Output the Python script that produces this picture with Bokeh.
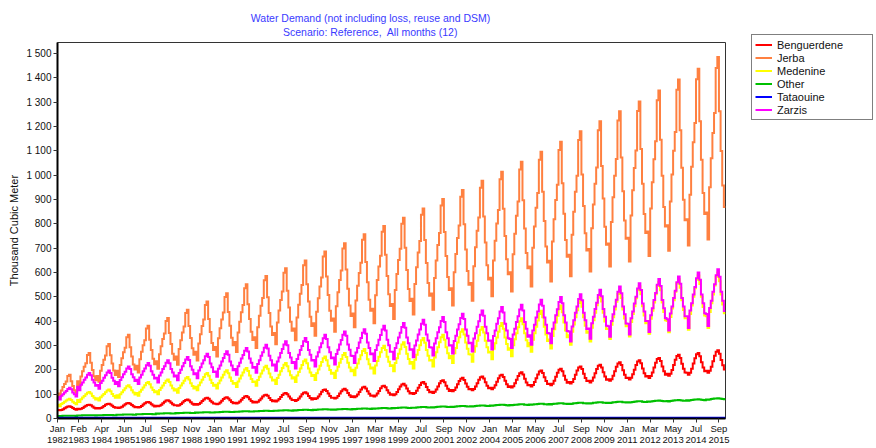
import numpy as np
from bokeh.plotting import figure
from bokeh.layouts import row, column
from bokeh.models import Range1d, FixedTicker, Legend, LegendItem, Label
from bokeh.embed import file_html
from bokeh.resources import INLINE

# ---------------------------------------------------------------------------
# Water demand by node, thousand cubic metres, monthly Jan 1982 - Dec 2015.
# Each node's demand is given as its peak-month (August) value per year,
# together with the monthly variation relative to that August value.
# ---------------------------------------------------------------------------
years = list(range(1982, 2016))
month_names = ["Jan", "Feb", "Mar", "Apr", "May", "Jun",
               "Jul", "Aug", "Sep", "Oct", "Nov", "Dec"]

benguerdene_aug = [50, 57, 61, 64, 68, 75, 78, 85, 87, 92, 98, 105,
                   108, 119, 122, 130, 135, 143, 150, 157, 167, 173, 180,
                   190, 197, 204, 214, 221, 231, 239, 249, 262, 269, 280]
jerba_aug = [180, 269, 306, 344, 381, 413, 447, 481, 515, 552, 586, 617,
             649, 686, 720, 757, 791, 825, 863, 902, 939, 977, 1014,
             1055, 1096, 1137, 1180, 1221, 1262, 1303, 1348, 1393, 1437, 1485]
medenine_aug = [81, 109, 119, 137, 150, 160, 171, 187, 198, 208, 217, 228,
                242, 255, 269, 286, 299, 313, 331, 344, 367, 376, 392,
                412, 443, 464, 489, 511, 527, 543, 561, 572, 588, 600]
other_aug = [11, 13, 14, 16, 18, 21, 23, 25, 27, 29, 31, 33,
             35, 37, 38, 40, 42, 44, 46, 48, 50, 52, 55,
             57, 59, 61, 63, 65, 67, 69, 72, 74, 77, 81]
tataouine_aug = [1.5, 1.5, 1.5, 1.5, 1.5, 1.5, 1.5, 1.5, 1.5, 1.5, 1.5, 1.5,
                 1.5, 1.5, 1.5, 1.5, 1.5, 1.5, 1.5, 1.5, 1.5, 1.5, 1.5,
                 1.5, 1.5, 1.5, 1.5, 1.5, 1.5, 1.5, 1.5, 1.5, 1.5, 1.5]
zarzis_aug = [126, 187, 197, 214, 228, 239, 253, 266, 276, 290, 303, 317,
              331, 344, 358, 367, 381, 392, 406, 417, 430, 444, 458,
              467, 488, 499, 511, 529, 542, 556, 573, 583, 600, 613]

# Monthly variation (Jan..Dec), fraction of the August value
benguerdene_shape = [0.70, 0.67, 0.70, 0.76, 0.84, 0.92, 0.98, 1.00, 0.95, 0.86, 0.78, 0.72]
jerba_shape = [0.57, 0.495, 0.64, 0.72, 0.79, 0.845, 0.97, 1.00, 0.85, 0.74, 0.645, 0.585]
medenine_shape = [0.70, 0.62, 0.73, 0.79, 0.85, 0.91, 0.97, 1.00, 0.94, 0.85, 0.78, 0.72]
other_shape = [0.97, 0.95, 0.97, 0.99, 1.00, 1.01, 1.02, 1.03, 1.02, 1.00, 0.99, 0.98]
tataouine_shape = [1.0, 1.0, 1.0, 1.0, 1.0, 1.0, 1.0, 1.0, 1.0, 1.0, 1.0, 1.0]
zarzis_shape = [0.70, 0.62, 0.74, 0.79, 0.85, 0.90, 0.96, 1.00, 0.95, 0.85, 0.79, 0.72]

series = [
    ("Benguerdene", benguerdene_aug, benguerdene_shape, "#ff0000", 2),
    ("Jerba", jerba_aug, jerba_shape, "#ff8040", 2),
    ("Medenine", medenine_aug, medenine_shape, "#ffff00", 2),
    ("Other", other_aug, other_shape, "#00c000", 2),
    ("Tataouine", tataouine_aug, tataouine_shape, "#0000ff", 3),
    ("Zarzis", zarzis_aug, zarzis_shape, "#ff00ff", 2),
]

x_tick_labels = ["Jan 1982", "Feb 1983", "Apr 1984", "Jun 1985", "Jul 1986",
                 "Sep 1987", "Nov 1988", "Jan 1990", "Mar 1991", "May 1992",
                 "Jul 1993", "Sep 1994", "Nov 1995", "Jan 1997", "Mar 1998",
                 "May 1999", "Jul 2000", "Sep 2001", "Nov 2002", "Jan 2004",
                 "Mar 2005", "May 2006", "Jul 2007", "Sep 2008", "Nov 2009",
                 "Jan 2011", "Mar 2012", "May 2013", "Jul 2014", "Sep 2015"]
y_ticks = list(range(0, 1501, 100))

title_lines = ["Water Demand (not including loss, reuse and DSM)",
               "Scenario: Reference,\u00a0 All months (12)"]

FONT = "Liberation Sans"
n_months = len(years) * 12
TITLE_H = 41


def bare_panel(width, height):
    """A figure whose frame fills it: no axes, grid or outline."""
    f = figure(width=width, height=height, output_backend="svg",
               toolbar_location=None, x_range=Range1d(0, width),
               y_range=Range1d(0, height), x_axis_location=None,
               y_axis_location=None, min_border=0)
    f.frame_align = False
    f.outline_line_color = None
    f.border_fill_color = "white"
    f.xgrid.visible = False
    f.ygrid.visible = False
    return f


# ---- heading --------------------------------------------------------------
head = bare_panel(740, TITLE_H)
for text, y in [(title_lines[0], TITLE_H - 17.5), (title_lines[1], TITLE_H - 31)]:
    head.add_layout(Label(x=370, y=y, text=text, text_align="center",
                          text_baseline="middle", text_font=FONT,
                          text_font_size="10.5px", text_color="#3a3aff"))

# ---- main chart -----------------------------------------------------------
p = figure(width=740, height=448 - TITLE_H, output_backend="svg",
           toolbar_location=None,
           x_range=Range1d(0, n_months), y_range=Range1d(0, 1545),
           min_border_left=57, min_border_right=15,
           min_border_top=1, min_border_bottom=29)
p.frame_align = False
p.background_fill_color = "white"
p.border_fill_color = "white"
p.outline_line_color = "#333333"
p.outline_line_width = 1
p.xgrid.visible = False
p.ygrid.visible = False

month_x = np.arange(n_months + 1)
for name, aug, shape, color, width in series:
    monthly = [a * s for a in aug for s in shape]
    monthly.append(monthly[-1])
    p.step(month_x, monthly, mode="after", line_color=color,
           line_width=width, line_join="miter")

# x axis: month ticks labelled "Mon\nYear"
tick_pos = []
tick_over = {}
for lab in x_tick_labels:
    mon, yr = lab.split()
    pos = (int(yr) - years[0]) * 12 + month_names.index(mon)
    tick_pos.append(pos)
    tick_over[pos] = mon + "\n" + yr
p.xaxis.ticker = FixedTicker(ticks=tick_pos)
p.xaxis.major_label_overrides = tick_over

p.yaxis.ticker = FixedTicker(ticks=y_ticks)
p.yaxis.major_label_overrides = {t: f"{t:,}".replace(",", " ") for t in y_ticks}
p.yaxis.axis_label = "Thousand Cubic Meter"
p.yaxis.axis_label_text_font = FONT
p.yaxis.axis_label_text_font_size = "11px"
p.yaxis.axis_label_text_font_style = "normal"
p.yaxis.axis_label_text_color = "#111111"
p.yaxis.axis_label_standoff = 3

for ax in (p.xaxis[0], p.yaxis[0]):
    ax.axis_line_color = "black"
    ax.axis_line_width = 2
    ax.major_tick_line_color = "#333333"
    ax.major_tick_in = 0
    ax.major_tick_out = 4
    ax.minor_tick_line_color = None
    ax.major_label_text_font = FONT
    ax.major_label_text_color = "#111111"
    ax.major_label_standoff = 2
p.yaxis.major_label_text_font_size = "10px"
p.xaxis.major_label_text_font_size = "9.5px"
p.xaxis.major_label_text_line_height = 1.05
p.xaxis.major_label_standoff = 0

# ---- legend panel ---------------------------------------------------------
lg = bare_panel(136, 448)
items = []
for name, aug, shape, color, width in series:
    # legend key only: a single undefined point draws nothing in the panel
    r = lg.line(x=np.array([0.0]), y=np.array([np.nan]), line_color=color,
                line_width=2)
    items.append(LegendItem(label=name, renderers=[r]))

legend = Legend(items=items, location=(11, 328), margin=0, padding=3, spacing=0,
                glyph_width=17, glyph_height=13, label_height=13, label_width=92,
                label_standoff=5, label_text_font=FONT, label_text_font_size="11px",
                label_text_color="#111111",
                border_line_color="black", border_line_width=1,
                background_fill_color="white", background_fill_alpha=1)
lg.add_layout(legend)

layout = row(column(head, p, spacing=0), lg, spacing=0)
open("out.html", "w").write(file_html(layout, INLINE))
